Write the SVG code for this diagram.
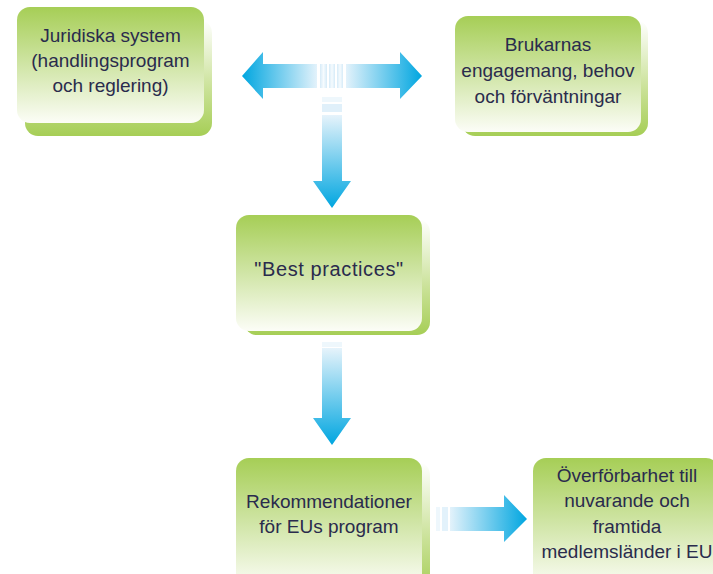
<svg xmlns="http://www.w3.org/2000/svg" width="713" height="574" viewBox="0 0 713 574">
<defs>
<linearGradient id="gFront" x1="0" y1="0" x2="0" y2="1">
<stop offset="0" stop-color="#a6ce56"/>
<stop offset="0.5" stop-color="#d0e5a6"/>
<stop offset="1" stop-color="#fcfdf7"/>
</linearGradient>
<linearGradient id="gShadow" x1="0" y1="0" x2="0" y2="1">
<stop offset="0" stop-color="#ffffff"/>
<stop offset="0.6" stop-color="#c9e196"/>
<stop offset="1" stop-color="#a6ce56"/>
</linearGradient>
<linearGradient id="bL" x1="0" y1="0" x2="1" y2="0">
<stop offset="0" stop-color="#00a6e0"/>
<stop offset="1" stop-color="#e3f2fb"/>
</linearGradient>
<linearGradient id="bR" x1="1" y1="0" x2="0" y2="0">
<stop offset="0" stop-color="#00a6e0"/>
<stop offset="1" stop-color="#e3f2fb"/>
</linearGradient>
<linearGradient id="bD" x1="0" y1="1" x2="0" y2="0">
<stop offset="0" stop-color="#00a6e0"/>
<stop offset="1" stop-color="#e6f3fb"/>
</linearGradient>
<linearGradient id="stripeV" x1="0" y1="0" x2="1" y2="0">
<stop offset="0" stop-color="#d6ebf8"/>
<stop offset="0.5" stop-color="#f6fbfe"/>
<stop offset="1" stop-color="#d6ebf8"/>
</linearGradient>
<linearGradient id="stripeH" x1="0" y1="0" x2="0" y2="1">
<stop offset="0" stop-color="#e9f4fb"/>
<stop offset="1" stop-color="#d3eaf8"/>
</linearGradient>
</defs>
<style>
.front{fill:url(#gFront);}
.shadow{fill:url(#gShadow);}
text{font-family:"Liberation Sans",Arial,sans-serif;font-size:19px;fill:#2a2b4d;text-anchor:middle;}
</style>

<g id="connectors">
<g id="arrow-double">
<polygon points="242,76 263,52 263,64 317,64 317,88 263,88 263,99" fill="url(#bL)"/>
<polygon points="422,76 400,52 400,64 346,64 346,88 400,88 400,99" fill="url(#bR)"/>
<rect x="320" y="64" width="7" height="24" fill="url(#stripeV)"/>
<rect x="329" y="64" width="6" height="24" fill="url(#stripeV)"/>
<rect x="337" y="64" width="6" height="24" fill="url(#stripeV)"/>
</g>
<g id="arrow-down-1">
<rect x="322" y="97" width="20" height="5" fill="#eef7fc"/>
<rect x="322" y="104" width="20" height="8" fill="#e0f0fa"/>
<polygon points="322,115 342,115 342,181 351,181 332,208 313,181 322,181" fill="url(#bD)"/>
</g>
<g id="arrow-down-2">
<rect x="322" y="342" width="20" height="5" fill="#eef7fc"/>
<polygon points="322,348 342,348 342,418 351,418 332,445 313,418 322,418" fill="url(#bD)"/>
</g>
<g id="arrow-right">
<rect x="436" y="507" width="4" height="24" fill="#eef7fc"/>
<rect x="442" y="507" width="6" height="24" fill="#e3f2fb"/>
<polygon points="450,507 504,507 504,495 527,519 504,542 504,531 450,531" fill="url(#bR)"/>
</g>
</g>

<g id="node-juridiska">
<rect class="shadow" x="25" y="20" width="187" height="116" rx="13"/>
<rect class="front" x="17" y="7" width="187" height="116" rx="13"/>
<text x="110.5" y="42">Juridiska system</text>
<text x="110.5" y="67">(handlingsprogram</text>
<text x="110.5" y="92">och reglering)</text>
</g>

<g id="node-brukarnas">
<rect class="shadow" x="462" y="20" width="186" height="116" rx="13"/>
<rect class="front" x="455" y="16" width="186" height="116" rx="13"/>
<text x="548" y="51">Brukarnas</text>
<text x="548" y="77">engagemang, behov</text>
<text x="548" y="103">och förväntningar</text>
</g>

<g id="node-best">
<rect class="shadow" x="244" y="219" width="186" height="116" rx="13"/>
<rect class="front" x="236" y="215" width="186" height="116" rx="13"/>
<text x="329" y="276" style="font-size:20px;letter-spacing:0.6px">"Best practices"</text>
</g>

<g id="node-rekommendationer">
<rect class="shadow" x="244" y="462" width="186" height="130" rx="13"/>
<rect class="front" x="236" y="458" width="186" height="130" rx="13"/>
<text x="329" y="508">Rekommendationer</text>
<text x="329" y="533">för EUs program</text>
</g>

<g id="node-overforbarhet">
<rect class="shadow" x="541" y="462" width="186" height="130" rx="13"/>
<rect class="front" x="533" y="458" width="186" height="130" rx="13"/>
<text x="627" y="482">Överförbarhet till</text>
<text x="627" y="507">nuvarande och</text>
<text x="627" y="533">framtida</text>
<text x="627" y="558">medlemsländer i EU</text>
</g>
</svg>
